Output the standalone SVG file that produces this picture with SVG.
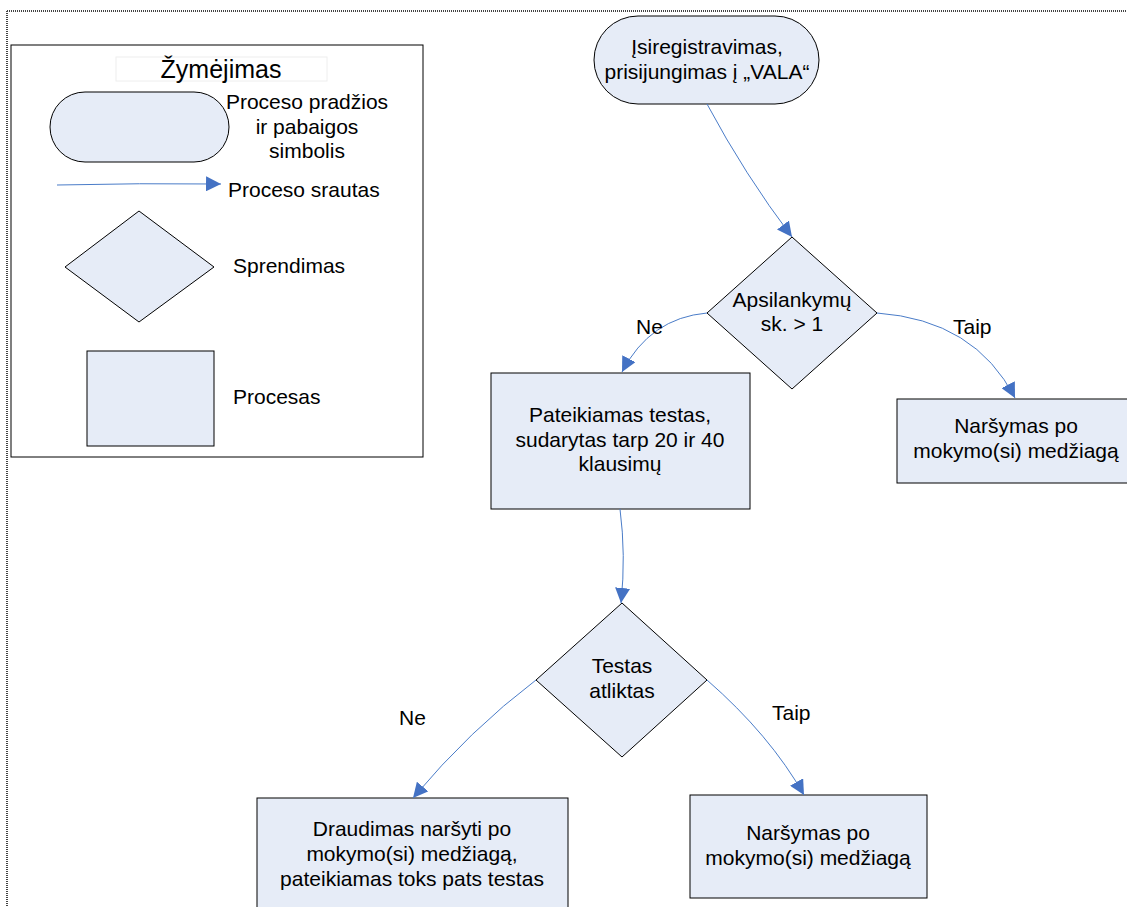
<svg xmlns="http://www.w3.org/2000/svg" width="1127" height="907" viewBox="0 0 1127 907">
<defs>
<style>
.n{fill:#E6ECF7;stroke:#000;stroke-width:1}
.t{font-family:"Liberation Sans",Arial,sans-serif;font-size:21px;fill:#000}
.c{text-anchor:middle}
.e{fill:none;stroke:#4A7CC8;stroke-width:1}
</style>
<marker id="ah" viewBox="0 0 10 10" refX="10" refY="5" markerWidth="15" markerHeight="15" markerUnits="userSpaceOnUse" orient="auto">
<path d="M0,0 L10,5 L0,10 Z" fill="#4472C4"/>
</marker>
</defs>
<rect width="1127" height="907" fill="#fff"/>
<g id="frame">
<path d="M7,11 H1127 M7,11 V907" fill="none" stroke="#444" stroke-width="2" stroke-dasharray="1,1"/>
</g>
<g id="legend">
<rect x="11" y="45" width="412" height="412" fill="#fff" stroke="#000" stroke-width="1"/>
<rect x="116" y="57" width="211" height="24" fill="#fff" stroke="#eee" stroke-width="1"/>
<text class="t c" x="221" y="78" style="font-size:25px">Žymėjimas</text>
<rect class="n" x="50" y="92" width="179" height="70" rx="35"/>
<text class="t c" x="307" y="109">Proceso pradžios</text>
<text class="t c" x="307" y="134">ir pabaigos</text>
<text class="t c" x="307" y="158">simbolis</text>
<path class="e" d="M57,185 Q140,183 221,184" marker-end="url(#ah)"/>
<text class="t" x="228" y="197">Proceso srautas</text>
<polygon class="n" points="65,267 139,211 214,267 139,322"/>
<text class="t" x="233" y="273">Sprendimas</text>
<rect class="n" x="87" y="351" width="127" height="95"/>
<text class="t" x="233" y="404">Procesas</text>
</g>
<g id="start">
<rect class="n" x="594" y="16" width="225" height="88" rx="44"/>
<text class="t c" x="707" y="54">Įsiregistravimas,</text>
<text class="t c" x="707" y="79">prisijungimas į „VALA“</text>
</g>
<g id="d1">
<polygon class="n" points="792,237 877,313 792,389 707,313"/>
<text class="t c" x="792" y="307">Apsilankymų</text>
<text class="t c" x="792" y="331">sk. &gt; 1</text>
</g>
<g id="test">
<rect class="n" x="491" y="373" width="259" height="136"/>
<text class="t c" x="620" y="422">Pateikiamas testas,</text>
<text class="t c" x="620" y="447">sudarytas tarp 20 ir 40</text>
<text class="t c" x="620" y="471">klausimų</text>
</g>
<g id="browse1">
<rect class="n" x="897" y="399" width="240" height="84"/>
<text class="t c" x="1016" y="433">Naršymas po</text>
<text class="t c" x="1016" y="458">mokymo(si) medžiagą</text>
</g>
<g id="d2">
<polygon class="n" points="622,603 707,680 622,757 536,680"/>
<text class="t c" x="622" y="673">Testas</text>
<text class="t c" x="622" y="698">atliktas</text>
</g>
<g id="deny">
<rect class="n" x="257" y="798" width="311" height="120"/>
<text class="t c" x="412" y="836">Draudimas naršyti po</text>
<text class="t c" x="412" y="861">mokymo(si) medžiagą,</text>
<text class="t c" x="412" y="886">pateikiamas toks pats testas</text>
</g>
<g id="browse2">
<rect class="n" x="690" y="795" width="237" height="103"/>
<text class="t c" x="808" y="840">Naršymas po</text>
<text class="t c" x="808" y="865">mokymo(si) medžiagą</text>
</g>
<g id="connectors">
<path class="e" d="M707,104 Q745,175 792,237" marker-end="url(#ah)"/>
<path class="e" d="M707,313 Q650,318 622,372" marker-end="url(#ah)"/>
<path class="e" d="M877,313 Q975,320 1015,398" marker-end="url(#ah)"/>
<path class="e" d="M620,509 Q626,555 621,603" marker-end="url(#ah)"/>
<path class="e" d="M536,680 Q470,730 413,798" marker-end="url(#ah)"/>
<path class="e" d="M707,680 Q770,735 804,795" marker-end="url(#ah)"/>
<text class="t" x="636" y="334">Ne</text>
<text class="t" x="953" y="334">Taip</text>
<text class="t" x="399" y="725">Ne</text>
<text class="t" x="772" y="720">Taip</text>
</g>
</svg>
